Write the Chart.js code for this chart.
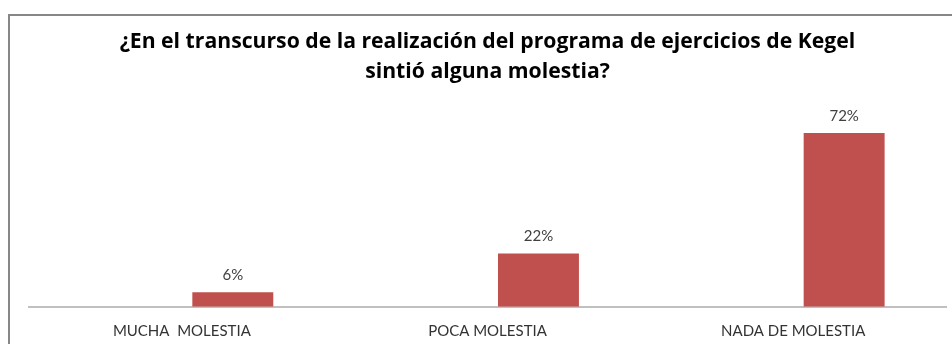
<!DOCTYPE html>
<html>
<head>
<meta charset="utf-8">
<script src="https://cdn.jsdelivr.net/npm/chart.js@4"></script>
<style>
  body { margin: 0; background: #fff; }
  #wrap { position: relative; width: 952px; height: 344px; }
  #frame { position: absolute; left: 8px; top: 14px; width: 960px; height: 360px;
           border-left: 2px solid #878787; border-top: 2px solid #878787; }
  #chart { position: absolute; left: 0; top: 0; }
</style>
</head>
<body>
<div id="wrap">
  <div id="frame"></div>
  <canvas id="chart" width="952" height="344"></canvas>
</div>
<script>
const titleLines = ["¿En el transcurso de la realización del programa de ejercicios de Kegel", "sintió alguna molestia?"];
const categories = ["MUCHA  MOLESTIA", "POCA MOLESTIA", "NADA DE MOLESTIA"];
const blankSeries = [null, null, null]; // empty first series, pushes the bars to the right
const percentValues = [6, 22, 72];

// labels above the bars
const valueLabels = {
  id: "valueLabels",
  afterDatasetsDraw(chart) {
    const ctx = chart.ctx;
    const meta = chart.getDatasetMeta(1);
    ctx.save();
    ctx.font = "15px Lato";
    ctx.fillStyle = "#404040";
    ctx.textAlign = "center";
    ctx.textBaseline = "middle";
    meta.data.forEach((bar, i) => {
      ctx.fillText(percentValues[i] + "%", bar.x, bar.y - 17);
    });
    ctx.restore();
  },
};

new Chart(document.getElementById("chart"), {
  type: "bar",
  data: {
    labels: categories,
    datasets: [
      { label: "", data: blankSeries, backgroundColor: "rgba(0,0,0,0)" },
      {
        label: "Porcentaje",
        data: percentValues,
        backgroundColor: "#c0504d",
        borderWidth: 0,
      },
    ],
  },
  options: {
    responsive: false,
    animation: false,
    categoryPercentage: 0.667,
    barPercentage: 0.794,
    layout: { padding: { left: 29, right: 6, top: 0, bottom: 0 } },
    scales: {
      x: {
        grid: { display: true, drawOnChartArea: false, drawTicks: false },
        border: { display: true, color: "#c0c0c0", width: 2 },
        ticks: {
          padding: 15,
          color: "#333333",
          font: { family: "Lato", size: 15 },
        },
        afterFit(scale) {
          scale.height = 37.3; // axis line sits at y ~307
        },
      },
      y: { display: false, min: 0, max: 80 },
    },
    plugins: {
      legend: { display: false },
      tooltip: { enabled: false },
      title: {
        display: true,
        text: titleLines,
        color: "#000",
        font: { family: "Open Sans", size: 21.2, weight: "bold", lineHeight: 1.415 },
        padding: { top: 26.5, bottom: 27.2 },
      },
    },
  },
  plugins: [valueLabels],
});
</script>
</body>
</html>
